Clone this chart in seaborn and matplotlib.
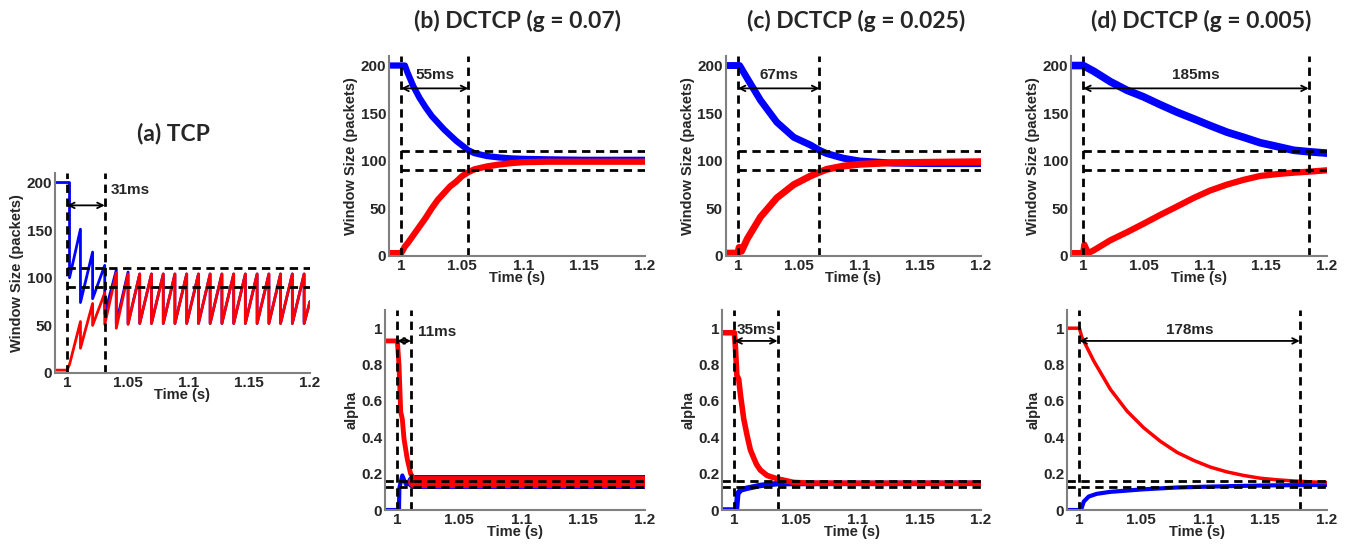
import matplotlib
matplotlib.use("Agg")
import matplotlib.pyplot as plt
import seaborn as sns

sns.set_style("white")
plt.rcParams["font.family"] = ["Liberation Sans", "DejaVu Sans"]
plt.rcParams["font.weight"] = "bold"

BLUE = "#0000ff"
RED = "#ff0000"

# ---- data ----
x_ticks = [1, 1.05, 1.1, 1.15, 1.2]
x_tick_labels = ["1", "1.05", "1.1", "1.15", "1.2"]
win_ticks = [0, 50, 100, 150, 200]
alpha_ticks = [0, 0.2, 0.4, 0.6, 0.8, 1]
alpha_tick_labels = ["0", "0.2", "0.4", "0.6", "0.8", "1"]

titles = ["(a) TCP", "(b) DCTCP (g = 0.07)", "(c) DCTCP (g = 0.025)", "(d) DCTCP (g = 0.005)"]

# convergence times (s) for window and alpha
win_conv = [0.031, 0.055, 0.067, 0.185]
alpha_conv = [None, 0.011, 0.035, 0.178]
win_band = [90, 110]
alpha_band = [0.129, 0.157]

# (a) TCP window, sawtooth
tcp_blue_t = [0.99, 1.002, 1.002, 1.011, 1.011, 1.021, 1.021, 1.031, 1.031, 1.0405, 1.0405, 1.0502, 1.0502,
              1.0598, 1.0598, 1.0695, 1.0695, 1.0792, 1.0792, 1.0888, 1.0888, 1.0985, 1.0985, 1.1082, 1.1082,
              1.1178, 1.1178, 1.1275, 1.1275, 1.1372, 1.1372, 1.1468, 1.1468, 1.1565, 1.1565, 1.1662, 1.1662,
              1.1758, 1.1758, 1.1855, 1.1855, 1.1952, 1.1952, 1.2]
tcp_blue_w = [200, 200, 100, 151, 74, 127, 78, 113, 62, 108, 52, 106, 52,
              104, 52, 104, 52, 104, 52, 104, 52, 104, 52, 104, 52,
              104, 52, 104, 52, 104, 52, 104, 52, 104, 52, 104, 52,
              104, 52, 104, 52, 104, 52, 75]
tcp_red_t = [0.99, 1.0, 1.002, 1.011, 1.011, 1.021, 1.021, 1.031, 1.031, 1.0405, 1.0405, 1.0502, 1.0502,
             1.0598, 1.0598, 1.0695, 1.0695, 1.0792, 1.0792, 1.0888, 1.0888, 1.0985, 1.0985, 1.1082, 1.1082,
             1.1178, 1.1178, 1.1275, 1.1275, 1.1372, 1.1372, 1.1468, 1.1468, 1.1565, 1.1565, 1.1662, 1.1662,
             1.1758, 1.1758, 1.1855, 1.1855, 1.1952, 1.1952, 1.2]
tcp_red_w = [3, 3, 9, 54, 26, 73, 50, 84, 51, 105, 47, 104, 51,
             104, 52, 104, 52, 104, 52, 104, 52, 104, 52, 104, 52,
             104, 52, 104, 52, 104, 52, 104, 52, 104, 52, 104, 52,
             104, 52, 104, 52, 104, 52, 75]

# (b) g = 0.07
b_win_t = [0.99, 1.0, 1.003, 1.005, 1.01, 1.015, 1.02, 1.025, 1.03, 1.035, 1.04, 1.045, 1.05, 1.055,
           1.06, 1.07, 1.08, 1.09, 1.1, 1.12, 1.15, 1.2]
b_win_blue = [200, 200, 200, 193, 178, 166, 156, 147, 140, 133, 127, 121, 116, 111,
              108, 105, 103.5, 102.5, 102, 101.5, 101, 101]
b_win_red = [3, 3, 10, 13, 22, 31, 40, 50, 59, 66, 73, 78, 84, 88,
             91, 94, 96, 97.5, 98.5, 99, 99, 99]
b_alpha_red_t = [0.99, 1.0, 1.0013, 1.0027, 1.004, 1.0054, 1.008, 1.0107, 1.0134]
b_alpha_red = [0.93, 0.93, 0.80, 0.54, 0.50, 0.39, 0.28, 0.20, 0.17]
b_alpha_blue_t = [0.99, 1.0013, 1.0016, 1.004, 1.007, 1.0134]
b_alpha_blue = [0, 0, 0.12, 0.19, 0.14, 0.15]
b_alpha_steady_t = [1.0134, 1.2]
b_alpha_steady = [0.155, 0.155]

# (c) g = 0.025
c_win_blue_t = [0.99, 1.0014, 1.0077, 1.0186, 1.032, 1.046, 1.0597, 1.067, 1.073, 1.087, 1.1, 1.128, 1.16, 1.2]
c_win_blue = [200, 200, 186.5, 163.5, 140.5, 124.6, 116.5, 111, 107.6, 102.6, 99.8, 97.5, 97, 97]
c_win_red_t = [0.99, 1.0, 1.001, 1.003, 1.0077, 1.0186, 1.032, 1.046, 1.0597, 1.067, 1.073, 1.087, 1.1, 1.128, 1.2]
c_win_red = [3, 3, 9, 5, 18, 41, 61, 75, 84, 88, 91, 94.5, 96.3, 98, 99]
c_alpha_red_t = [0.99, 1.0, 1.0008, 1.002, 1.0035, 1.005, 1.0076, 1.0103, 1.013, 1.0157, 1.018, 1.021,
                 1.0265, 1.0346, 1.0427, 1.048, 1.06, 1.1, 1.2]
c_alpha_red = [0.975, 0.975, 0.90, 0.74, 0.72, 0.63, 0.50, 0.41, 0.33, 0.286, 0.25, 0.22,
               0.19, 0.172, 0.16, 0.152, 0.148, 0.147, 0.147]
c_alpha_blue_t = [0.99, 1.0016, 1.0027, 1.005, 1.0103, 1.021, 1.0346, 1.05, 1.2]
c_alpha_blue = [0, 0, 0.09, 0.11, 0.12, 0.135, 0.145, 0.146, 0.147]

# (d) g = 0.005
d_win_blue_t = [0.99, 1.0, 1.0087, 1.0224, 1.036, 1.0497, 1.063, 1.077, 1.0907, 1.104, 1.118, 1.1317,
                1.145, 1.159, 1.1727, 1.185, 1.2]
d_win_blue = [200, 200, 194, 183, 174, 167, 159, 151, 144, 137, 130, 124.6, 119, 115, 111, 109.5, 108]
d_win_red_t = [0.99, 1.0, 1.001, 1.004, 1.0087, 1.0224, 1.036, 1.0497, 1.063, 1.077, 1.0907, 1.104,
               1.118, 1.1317, 1.145, 1.159, 1.1727, 1.185, 1.2]
d_win_red = [3, 3, 12, 3, 6, 16.6, 25, 34, 43, 52, 61, 68.7, 75, 80, 84, 86, 87.5, 88.5, 90]
d_alpha_red_t = [0.99, 1.0, 1.002, 1.0116, 1.025, 1.0385, 1.052, 1.0654, 1.0789, 1.0923, 1.1058, 1.119,
                 1.1327, 1.146, 1.16, 1.173, 1.1865, 1.2]
d_alpha_red = [1.0, 1.0, 0.95, 0.82, 0.664, 0.544, 0.452, 0.378, 0.317, 0.273, 0.236, 0.21,
               0.19, 0.175, 0.166, 0.16, 0.155, 0.151]
d_alpha_blue_t = [0.99, 1.0013, 1.0035, 1.0075, 1.014, 1.025, 1.052, 1.079, 1.106, 1.133, 1.16, 1.2]
d_alpha_blue = [0, 0, 0.046, 0.074, 0.089, 0.1, 0.114, 0.124, 0.129, 0.133, 0.136, 0.138]

# ---- figure ----
fig = plt.figure(figsize=(13.57, 5.49), dpi=100)

TXT = dict(fontsize=11, fontweight="bold")
DASH = dict(color="black", lw=2, ls=(0, (3, 2)))


def style_axes(ax, kind):
    ax.set_xlim(0.99, 1.2)
    ax.set_xticks(x_ticks)
    ax.set_xticklabels(x_tick_labels, **TXT)
    if kind == "win":
        ax.set_ylim(0, 210)
        ax.set_yticks(win_ticks)
        ax.set_yticklabels([str(v) for v in win_ticks], **TXT)
        ax.set_ylabel("Window Size (packets)", labelpad=2, fontsize=10.5, fontweight="bold")
    else:
        ax.set_ylim(0, 1.1)
        ax.set_yticks(alpha_ticks)
        ax.set_yticklabels(alpha_tick_labels, **TXT)
        ax.set_ylabel("alpha", labelpad=2, fontsize=10.5, fontweight="bold")
    ax.set_xlabel("Time (s)", labelpad=-1, fontsize=10.5, fontweight="bold")
    sns.despine(ax=ax)
    for s in ["left", "bottom"]:
        ax.spines[s].set_color("#808080")
        ax.spines[s].set_linewidth(1.5)
    ax.tick_params(direction="in", length=3, color="#808080", pad=2)


def line(ax, t, v, color, lw):
    sns.lineplot(x=t, y=v, ax=ax, color=color, lw=lw, estimator=None, sort=False)


def guides(ax, kind, conv, y_arrow, label, label_x, label_y, ha="center"):
    band = win_band if kind == "win" else alpha_band
    x0 = 1.0 if kind == "win" else 0.99
    for b in band:
        ax.plot([x0, 1.2], [b, b], **DASH)
    top = 210 if kind == "win" else 1.1
    for xv in [1.0, 1.0 + conv]:
        ax.plot([xv, xv], [0, top], **DASH)
    ax.annotate("", xy=(1.0, y_arrow), xytext=(1.0 + conv, y_arrow),
                arrowprops=dict(arrowstyle="<->", color="black", lw=1.3, shrinkA=0, shrinkB=0,
                                mutation_scale=10))
    ax.text(label_x, label_y, label, ha=ha, va="center", **TXT)


# (a) TCP
ax_a = fig.add_axes([0.0405, 0.3206, 0.1879, 0.3643])
line(ax_a, tcp_blue_t, tcp_blue_w, BLUE, 2)
line(ax_a, tcp_red_t, tcp_red_w, RED, 2)
guides(ax_a, "win", win_conv[0], 176, "31ms", 1.036, 192, ha="left")
style_axes(ax_a, "win")

# (b) window / alpha
ax_bw = fig.add_axes([0.2867, 0.5337, 0.1887, 0.3643])
line(ax_bw, b_win_t, b_win_blue, BLUE, 4.5)
line(ax_bw, b_win_t, b_win_red, RED, 4.5)
guides(ax_bw, "win", win_conv[1], 176, "55ms", 1.0275, 190)
style_axes(ax_bw, "win")

ax_ba = fig.add_axes([0.2837, 0.0710, 0.1916, 0.3643])
line(ax_ba, b_alpha_blue_t, b_alpha_blue, BLUE, 3)
line(ax_ba, b_alpha_steady_t, b_alpha_steady, BLUE, 10)
line(ax_ba, b_alpha_red_t, b_alpha_red, RED, 3.5)
line(ax_ba, b_alpha_steady_t, b_alpha_steady, RED, 8.5)
guides(ax_ba, "alpha", alpha_conv[1], 0.93, "11ms", 1.017, 0.98, ha="left")
style_axes(ax_ba, "alpha")

# (c) window / alpha
ax_cw = fig.add_axes([0.5348, 0.5337, 0.1882, 0.3643])
line(ax_cw, c_win_blue_t, c_win_blue, BLUE, 5)
line(ax_cw, c_win_red_t, c_win_red, RED, 5)
guides(ax_cw, "win", win_conv[2], 176, "67ms", 1.0335, 190)
style_axes(ax_cw, "win")

ax_ca = fig.add_axes([0.5321, 0.0710, 0.1909, 0.3643])
line(ax_ca, c_alpha_blue_t, c_alpha_blue, BLUE, 4)
line(ax_ca, c_alpha_red_t, c_alpha_red, RED, 4)
guides(ax_ca, "alpha", alpha_conv[2], 0.93, "35ms", 1.0175, 0.99)
style_axes(ax_ca, "alpha")

# (d) window / alpha
ax_dw = fig.add_axes([0.7892, 0.5337, 0.1887, 0.3643])
line(ax_dw, d_win_blue_t, d_win_blue, BLUE, 5.5)
line(ax_dw, d_win_red_t, d_win_red, RED, 4.5)
guides(ax_dw, "win", win_conv[3], 176, "185ms", 1.0925, 190)
style_axes(ax_dw, "win")

ax_da = fig.add_axes([0.7863, 0.0710, 0.1916, 0.3643])
line(ax_da, d_alpha_blue_t, d_alpha_blue, BLUE, 3)
line(ax_da, d_alpha_red_t, d_alpha_red, RED, 2.5)
guides(ax_da, "alpha", alpha_conv[3], 0.93, "178ms", 1.089, 0.99)
style_axes(ax_da, "alpha")

# panel titles
title_pos = [(0.1275, 0.756), (0.381, 0.962), (0.631, 0.962), (0.885, 0.962)]
for (tx, ty), t in zip(title_pos, titles):
    fig.text(tx, ty, t, ha="center", va="center", fontsize=16.5, fontweight="bold",
             family=["Lato", "DejaVu Sans"])

fig.savefig("out.png", dpi=100)
